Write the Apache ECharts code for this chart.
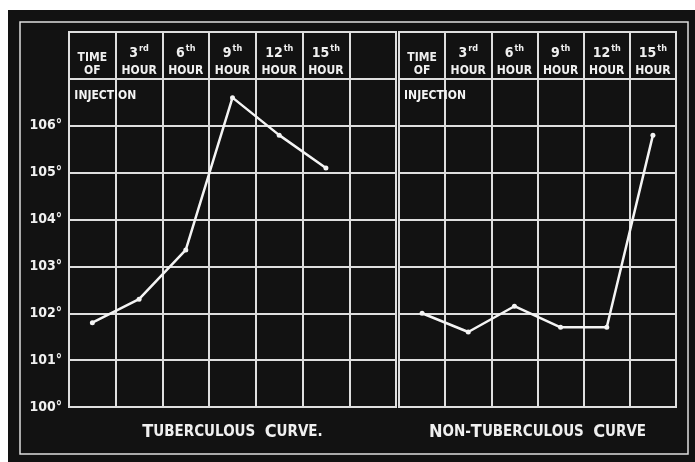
<!DOCTYPE html>
<html>
<head>
<meta charset="utf-8">
<style>
  html, body { margin: 0; padding: 0; background: #ffffff; }
  #chart { width: 695px; height: 462px; }
</style>
<script src="https://cdn.jsdelivr.net/npm/echarts@6/dist/echarts.min.js"></script>
</head>
<body>
<div id="chart"></div>
<script>
// Temperature readings (°F) after injection, taken every three hours
const hourColumns = ['3rd', '6th', '9th', '12th', '15th'];
const leftColumns = ['TIME OF', ...hourColumns, ''];
const rightColumns = ['TIME OF', ...hourColumns];
const tuberculous = [101.8, 102.3, 103.35, 106.6, 105.8, 105.1];
const nonTuberculous = [102.0, 101.6, 102.15, 101.7, 101.7, 105.8];
const tempMin = 100;
const tempMax = 108;
const lastLabelledTemp = 106;
const injectionNote = 'INJECTION';
const leftTitle = ['T', 'UBERCULOUS', 'C', 'URVE.'];
const rightTitle = ['N', 'ON-', 'T', 'UBERCULOUS', 'C', 'URVE'];

const chalk = '#dedede';
const ink = '#f0f0f0';
const board = '#121212';
const font = "'DejaVu Sans Condensed', 'Liberation Sans Narrow', 'DejaVu Sans', sans-serif";

function smallCaps(parts) {
  // large initial capital followed by smaller capitals, words separated by a gap
  let out = '';
  for (let i = 0; i < parts.length; i += 2) {
    if (i > 0 && !/-$/.test(parts[i - 1])) out += '{sm|  }';
    out += '{big|' + parts[i] + '}{sm|' + parts[i + 1] + '}';
  }
  return out;
}

function headerLabel(value) {
  if (!value) return '';
  if (value.indexOf('TIME') === 0) return '{t|TIME}\n{h|OF}';
  const m = value.match(/^(\d+)(\D+)$/);
  return '{n|' + m[1] + '}{s|' + m[2] + '}\n{h|HOUR}';
}

const headerRich = {
  t: { fontFamily: font, fontWeight: 'bold', fontSize: 12, color: ink, lineHeight: 19, padding: [9, 0, 0, 0] },
  n: { fontFamily: font, fontWeight: 'bold', fontSize: 14, color: ink, lineHeight: 19 },
  s: { fontFamily: font, fontWeight: 'bold', fontSize: 9, color: ink, lineHeight: 19, verticalAlign: 'top', padding: [0, 0, 6, 1] },
  h: { fontFamily: font, fontWeight: 'bold', fontSize: 12, color: ink, lineHeight: 15 }
};

const titleRich = {
  big: { fontFamily: font, fontWeight: 'bold', fontSize: 18, color: ink },
  sm: { fontFamily: font, fontWeight: 'bold', fontSize: 15, color: ink }
};

function bottomAxis(gridIndex, data, titleParts) {
  return {
    type: 'category', gridIndex: gridIndex, position: 'bottom', data: data,
    boundaryGap: true,
    axisLine: { show: true, lineStyle: { color: chalk, width: 2 } },
    axisTick: { show: false, interval: 0 },
    axisLabel: { show: false, interval: 0 },
    splitLine: { show: true, interval: 0, lineStyle: { color: chalk, width: 2 } },
    name: smallCaps(titleParts),
    nameLocation: 'middle',
    nameGap: 16,
    nameTextStyle: { rich: titleRich, verticalAlign: 'top' }
  };
}

function topAxis(gridIndex, data) {
  return {
    type: 'category', gridIndex: gridIndex, position: 'top', data: data,
    boundaryGap: true,
    axisLine: { show: false },
    axisTick: { show: false },
    splitLine: { show: false },
    axisLabel: {
      inside: true, margin: 12, interval: 0, verticalAlign: 'top',
      formatter: headerLabel, rich: headerRich
    }
  };
}

function tempAxis(gridIndex, showLabels) {
  return {
    type: 'value', gridIndex: gridIndex, min: tempMin, max: tempMax, interval: 1,
    axisLine: { show: true, lineStyle: { color: chalk, width: 2 } },
    axisTick: { show: false },
    splitLine: { show: true, lineStyle: { color: chalk, width: 2 } },
    axisLabel: {
      show: showLabels, margin: 7, color: ink,
      fontFamily: font, fontWeight: 'bold', fontSize: 14,
      padding: [0, 0, 8, 0],
      formatter: v => (v <= lastLabelledTemp ? v + '°' : '')
    }
  };
}

function curve(xIndex, yIndex, values) {
  return {
    type: 'line', xAxisIndex: xIndex, yAxisIndex: yIndex, data: values,
    symbol: 'circle', symbolSize: 5, showSymbol: true,
    lineStyle: { color: '#f4f4f4', width: 2.5 },
    itemStyle: { color: '#f4f4f4' },
    silent: true, animation: false, z: 5
  };
}

function note(xIndex, yIndex) {
  // caption written in the first row beneath the header
  return {
    type: 'scatter', xAxisIndex: xIndex, yAxisIndex: yIndex,
    data: [[0, lastLabelledTemp + 0.5]], symbol: 'circle', symbolSize: 0.01,
    silent: true, animation: false, z: 6,
    itemStyle: { color: board, opacity: 1 },
    label: {
      show: true, position: 'right', distance: 0, offset: [-18, -6],
      formatter: injectionNote, color: '#f4f4f4', textBorderWidth: 0,
      fontFamily: font, fontWeight: 'bold', fontSize: 12
    }
  };
}

const chart = echarts.init(document.getElementById('chart'), null, { renderer: 'canvas' });
chart.setOption({
  backgroundColor: 'transparent',
  animation: false,
  graphic: [
    { type: 'rect', z: -10, shape: { x: 8, y: 10, width: 687, height: 452 }, style: { fill: board } },
    { type: 'rect', z: -9, shape: { x: 20, y: 22, width: 668, height: 432 },
      style: { fill: 'none', stroke: chalk, lineWidth: 1.5 } }
  ],
  grid: [
    { left: 69, top: 32, width: 327, height: 375, show: true, borderColor: chalk, borderWidth: 2 },
    { left: 399, top: 32, width: 277, height: 375, show: true, borderColor: chalk, borderWidth: 2 }
  ],
  xAxis: [
    bottomAxis(0, leftColumns, leftTitle),
    bottomAxis(1, rightColumns, rightTitle),
    topAxis(0, leftColumns),
    topAxis(1, rightColumns)
  ],
  yAxis: [tempAxis(0, true), tempAxis(1, false)],
  series: [
    curve(0, 0, tuberculous),
    curve(1, 1, nonTuberculous),
    note(0, 0),
    note(1, 1)
  ]
});
</script>
</body>
</html>
